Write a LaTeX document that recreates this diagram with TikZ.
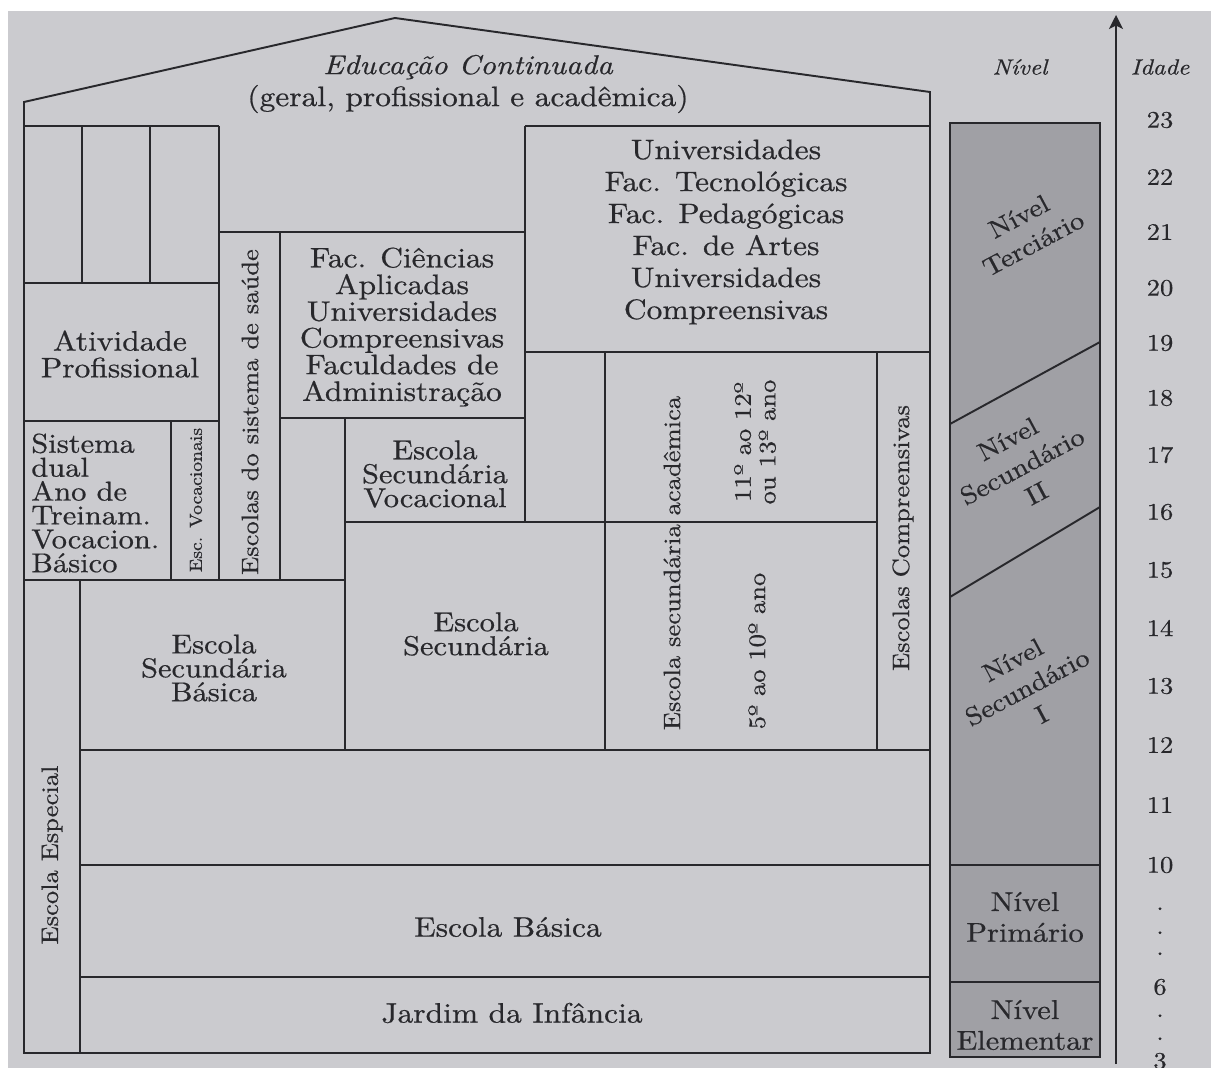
\documentclass[tikz,border=0pt]{standalone}
\usepackage{fontspec}
\setmainfont{lmroman10-regular.otf}[ItalicFont=lmroman10-italic.otf, FakeStretch=1.12, FakeBold=0.6]
\usetikzlibrary{arrows.meta}
\definecolor{pagebg}{RGB}{203,203,207}
\definecolor{shade}{RGB}{160,160,165}
\definecolor{ink}{RGB}{40,40,44}
\newcommand\fsz[2]{\fontsize{#1}{#2}\selectfont}
\begin{document}
\begin{tikzpicture}[x=0.02cm, y=-0.02cm,
  ln/.style={draw=ink, line width=1.1pt, line join=miter},
  lbl/.style={inner sep=0pt, align=center, text=ink},
  big/.style={lbl, font=\fsz{16}{18.2}},
  mid/.style={lbl, font=\fsz{16}{15.2}},
  tight/.style={lbl, font=\fsz{15.5}{13.6}},
  rot/.style={lbl, rotate=90, font=\fsz{13.5}{14}},
  lev/.style={lbl, font=\fsz{15.5}{17.5}},
  diag/.style={lbl, rotate=28, font=\fsz{14.5}{17.5}},
  age/.style={lbl, font=\fsz{13.5}{15}},
  hdr/.style={lbl, font=\fsz{12.5}{14}\itshape}]
% page
\fill[white] (0,0) rectangle (1211,1068);
\fill[pagebg] (8,11) rectangle (1211,1068);
\useasboundingbox (0,0) rectangle (1211,1068);
% outer frame with roof
\draw[ln] (24,1053) -- (24,102) -- (395,18) -- (930,92) -- (930,1053) -- cycle;
% left block with three columns
\draw[ln] (24,126) -- (219,126);
\draw[ln] (82,126) -- (82,283);
\draw[ln] (150,126) -- (150,283);
\draw[ln] (219,126) -- (219,580);
\draw[ln] (24,283) -- (219,283);
\draw[ln] (24,421) -- (219,421);
\draw[ln] (171,421) -- (171,580);
\draw[ln] (24,580) -- (345,580);
% health column and applied sciences
\draw[ln] (219,232) -- (525,232);
\draw[ln] (280,232) -- (280,580);
\draw[ln] (280,418) -- (525,418);
\draw[ln] (345,418) -- (345,750);
% universities
\draw[ln] (525,126) -- (930,126);
\draw[ln] (525,126) -- (525,522);
\draw[ln] (525,352) -- (930,352);
% academic secondary and comprehensive
\draw[ln] (605,352) -- (605,750);
\draw[ln] (345,522) -- (877,522);
\draw[ln] (877,352) -- (877,750);
% lower bands
\draw[ln] (80,750) -- (930,750);
\draw[ln] (80,580) -- (80,1053);
\draw[ln] (80,865) -- (930,865);
\draw[ln] (80,977) -- (930,977);
% level column
\filldraw[ln, fill=shade] (950,123) rectangle (1100,1057);
\draw[ln] (950,424) -- (1100,342);
\draw[ln] (950,597) -- (1100,507);
\draw[ln] (950,865) -- (1100,865);
\draw[ln] (950,982) -- (1100,982);
% age axis
\coordinate (axbot) at (1116,1064);
\coordinate (axtop) at (1116,15);
\draw[ln, -{Stealth[length=8pt,width=8pt,inset=2pt]}] (axbot) -- (axtop);
% texts
\node[big] (cont) at (468,84) {\itshape\fsz{15.5}{18.2}Educação Continuada\\(geral, profissional e acadêmica)};
\node[big] (univ) at (726,232) {Universidades\\Fac. Tecnológicas\\Fac. Pedagógicas\\Fac. de Artes\\Universidades\\Compreensivas};
\node[mid] (facc) at (402,327) {Fac. Ciências\\Aplicadas\\Universidades\\Compreensivas\\Faculdades de\\Administração};
\node[mid] (ativ) at (120,354) {Atividade\\Profissional};
\node[tight, align=left, anchor=west] (dual) at (31,503) {Sistema\\dual\\Ano de\\Treinam.\\Vocacion.\\Básico};
\node[lbl, rotate=90, font=\fsz{10}{12}] (escvoc) at (196,500) {Esc. Vocacionais};
\node[rot] (saude) at (250,412) {Escolas do sistema de saúde};
\node[tight] (secvoc) at (435,474) {Escola\\Secundária\\Vocacional};
\node[tight] (secbas) at (214,668) {Escola\\Secundária\\Básica};
\node[tight] (sec) at (476,634) {Escola\\Secundária};
\node[rot] (acad) at (672,563) {Escola secundária acadêmica};
\node[rot] (ano11) at (755,442) {11º ao 12º\\ou 13º ano};
\node[rot] (ano5) at (757,651) {5º ao 10º ano};
\node[rot] (compr) at (903,538) {Escolas Compreensivas};
\node[rot] (esp) at (52,855) {Escola Especial};
\node[big] (basica) at (508,927) {Escola Básica};
\node[big] (jardim) at (512,1013) {Jardim da Infância};
% level labels
\node[diag] (terc) at (1026,230) {Nível\\Terciário};
\node[diag] (sec2) at (1022,466) {Nível\\Secundário\\II};
\node[diag] (sec1) at (1027,687) {Nível\\Secundário\\I};
\node[lev] (prim) at (1025,917) {Nível\\Primário};
\node[lev] (elem) at (1025,1025) {Nível\\Elementar};
% headers
\node[hdr] (hniv) at (1020,67) {Nível};
\node[hdr] (hidade) at (1160,67) {Idade};
% ages
\node[age] (a23) at (1160,120) {23};
\node[age] (a22) at (1160,177) {22};
\node[age] (a21) at (1160,232) {21};
\node[age] (a20) at (1160,288) {20};
\node[age] (a19) at (1160,343) {19};
\node[age] (a18) at (1160,398) {18};
\node[age] (a17) at (1160,455) {17};
\node[age] (a16) at (1160,512) {16};
\node[age] (a15) at (1160,570) {15};
\node[age] (a14) at (1160,628) {14};
\node[age] (a13) at (1160,686) {13};
\node[age] (a12) at (1160,745) {12};
\node[age] (a11) at (1160,805) {11};
\node[age] (a10) at (1160,865) {10};
\node[age, anchor=base] (dA) at (1160,910) {.};
\node[age, anchor=base] (dB) at (1160,934) {.};
\node[age, anchor=base] (dC) at (1160,955) {.};
\node[age] (a6) at (1160,987) {6};
\node[age, anchor=base] (dD) at (1160,1017) {.};
\node[age, anchor=base] (dE) at (1160,1040) {.};
\node[age] (a3) at (1160,1061) {3};
\end{tikzpicture}
\end{document}
